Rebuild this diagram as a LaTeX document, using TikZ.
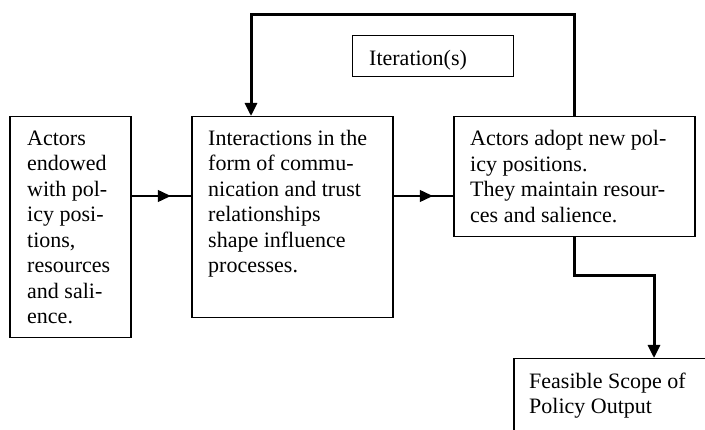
\documentclass[tikz,border=0pt]{standalone}
\usepackage{fontspec}
\setmainfont{Liberation Serif}
\usetikzlibrary{arrows.meta,decorations.markings}
\begin{document}
\begin{tikzpicture}[x=1pt,y=-1pt,
  box/.style={draw, line width=1.5pt, inner sep=0pt, anchor=north west},
  txt/.style={anchor=north west, inner sep=0pt, align=left,
    font=\fontsize{22}{25.5}\selectfont},
  link/.style={line width=1.3pt,
    decoration={markings, mark=at position 0.66 with {\arrow{Triangle[length=13pt,width=12pt]}}},
    postaction={decorate}},
  loop/.style={line width=3pt, -{Triangle[length=13pt,width=12pt]}}]
\useasboundingbox (0,0) rectangle (705,430);
\clip (0,0) rectangle (705,430);
\fill[white] (0,0) rectangle (705,430);

% stages of the process
\node[box, minimum width=121pt, minimum height=221pt] (b1) at (9,116) {};
\node[box, minimum width=201pt, minimum height=201pt] (b2) at (191,116) {};
\node[box, minimum width=241pt, minimum height=120pt] (b3) at (453,116) {};
\node[box, line width=1.3pt, minimum width=161pt, minimum height=41pt] (it) at (352,35) {};
\node[box, minimum width=220pt, minimum height=110pt] (b4) at (513,358) {};

% box texts
\node[txt] (t1) at ([shift={(18,11.2)}]b1.north west)
  {\strut Actors\\endowed\\with pol-\\icy posi-\\tions,\\resources\\and sali-\\ence.};
\node[txt] (t2) at ([shift={(17,11.2)}]b2.north west)
  {\strut Interactions in the\\form of commu-\\nication and trust\\relationships\\shape influence\\processes.};
\node[txt] (t3) at ([shift={(17,11.7)}]b3.north west)
  {\strut Actors adopt new pol-\\icy positions.\\They maintain resour-\\ces and salience.};
\node[txt] (t4) at ([shift={(17,12.2)}]it.north west) {\strut Iteration(s)};
\node[txt] (t5) at ([shift={(16,12.2)}]b4.north west)
  {\strut Feasible Scope of\\Policy Output};

% connectors
\coordinate (ay) at (0,196);
\coordinate (loopL) at (251,15);
\coordinate (outx) at (654,276);
\draw[link] (b1.east |- ay) -- (b2.west |- ay);
\draw[link] (b2.east |- ay) -- (b3.west |- ay);
\draw[loop] (b3.north) |- (loopL) -- (loopL |- b2.north);
\draw[loop] (b3.south) |- (outx) -- (outx |- b4.north);
\end{tikzpicture}
\end{document}
